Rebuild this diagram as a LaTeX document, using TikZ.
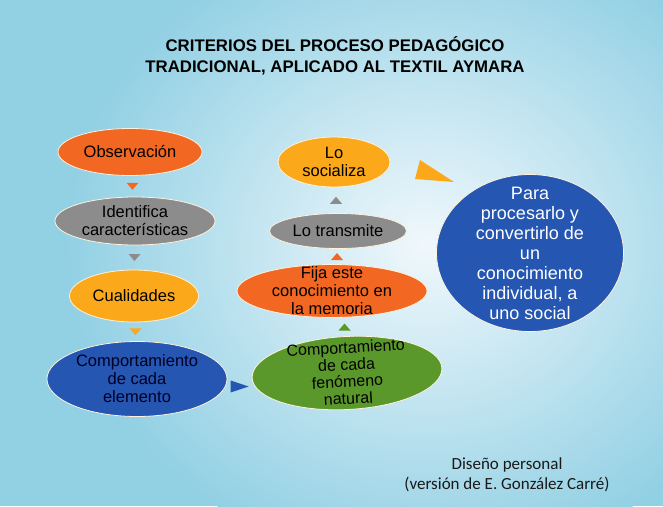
\documentclass[tikz,border=0pt]{standalone}
\usepackage{fontspec}
\setmainfont{Liberation Sans}
\newfontfamily\calib{Carlito}
\usetikzlibrary{shapes.geometric,calc}
\definecolor{bgout}{RGB}{146,208,228}
\definecolor{bgin}{RGB}{240,248,252}
\definecolor{corange}{RGB}{242,104,34}
\definecolor{cgray}{RGB}{140,140,140}
\definecolor{cyellow}{RGB}{251,168,26}
\definecolor{cblue}{RGB}{36,86,178}
\definecolor{cgreen}{RGB}{90,152,44}
\begin{document}
\begin{tikzpicture}[x=1pt,y=-1pt,
  bub/.style={ellipse, draw=white!85!cyellow, line width=0.8pt, inner sep=0pt},
  txt/.style={align=center, font=\fontsize{16.5}{18}\selectfont, text=black},
  pics/tri/.style={code={\fill[#1] (-6,-3.5) -- (6,-3.5) -- (0,3.5) -- cycle;}},
  pics/trir/.style={code={\fill[#1] (-9,-6) -- (-9,6) -- (9,0) -- cycle;}}
]
\useasboundingbox (0,0) rectangle (663,506);
\fill[bgout] (0,0) rectangle (663,506);
\shade[inner color=bgin, outer color=bgout] (425,245) ellipse [x radius=360, y radius=320];

\node[font=\bfseries\fontsize{16.8}{21}\selectfont, align=center] (title) at (335,56)
  {CRITERIOS DEL PROCESO PEDAGÓGICO\\TRADICIONAL, APLICADO AL TEXTIL AYMARA};

% left column
\node[bub, fill=corange, minimum width=144pt, minimum height=47pt] (obs) at (130,152) {};
\node[txt] (obs-t) at (obs) {Observación};
\node[bub, fill=cgray, minimum width=160pt, minimum height=48pt] (ide) at (135,221) {};
\node[txt] (ide-t) at (ide) {Identifica\\características};
\node[bub, fill=cyellow, minimum width=129pt, minimum height=52pt] (cua) at (134,296) {};
\node[txt] (cua-t) at (cua) {Cualidades};
\node[bub, fill=cblue, minimum width=180pt, minimum height=75pt] (com) at (137,379) {};
\node[txt, text=black!85!blue] (com-t) at (com) {Comportamiento\\de cada\\elemento};

% middle column
\node[bub, fill=cgreen, minimum width=190pt, minimum height=73pt, rotate=3] (fen) at (347,373) {};
\node[txt, font=\fontsize{16}{17}\selectfont, rotate=3] (fen-t) at (fen) {Comportamiento\\de cada\\fenómeno\\natural};
\node[bub, fill=corange, minimum width=190pt, minimum height=53pt] (fij) at (332,291) {};
\node[txt] (fij-t) at (fij) {Fija este\\conocimiento en\\la memoria};
\node[bub, fill=cgray, minimum width=137pt, minimum height=35pt] (tra) at (338,231) {};
\node[txt] (tra-t) at (tra) {Lo transmite};
\node[bub, fill=cyellow, minimum width=112pt, minimum height=50pt] (soc) at (334,162) {};
\node[txt] (soc-t) at (soc) {Lo\\socializa};

% right
\node[bub, fill=cblue, minimum width=187pt, minimum height=157pt] (par) at (530,253) {};
\node[txt, text=white, font=\fontsize{18}{20}\selectfont] (par-t) at (par)
  {Para\\procesarlo y\\convertirlo de\\un\\conocimiento\\individual, a\\uno social};

% arrowheads
\pic at ($(obs.south)!.5!(ide.north)$) {tri=corange};
\pic at ($(ide.south)!.5!(cua.north)$) {tri=cgray};
\pic at ($(cua.south)!.5!(com.north)$) {tri=cyellow};
\pic at ($(com.east)!.5!(fen.west)+(0,8)$) {trir=cblue};
\pic[rotate=180] at ($(fen.north)!.5!(fij.south)+(6,0)$) {tri=cgreen};
\pic[rotate=180] at ($(fij.north)!.5!(tra.south)+(2,0)$) {tri=corange};
\pic[rotate=180] at ($(tra.north)!.5!(soc.south)$) {tri=cgray};
\fill[cyellow] (420,160) -- (454,182) -- (415,179) -- cycle;

\node[font=\calib\fontsize{17}{20}\selectfont, align=center, text=black!90] (foot) at (507,475)
  {Diseño personal\\(versión de E. González Carré)};
\end{tikzpicture}
\end{document}
